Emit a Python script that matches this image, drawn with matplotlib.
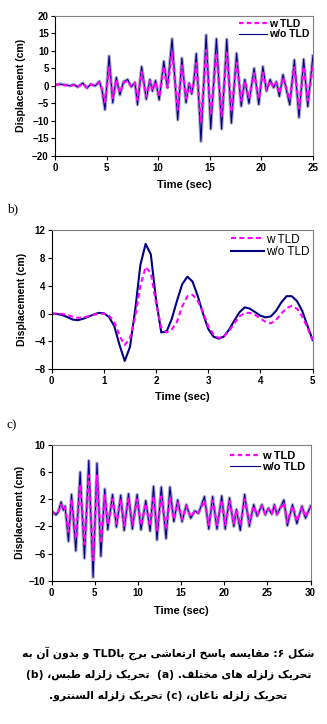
import re
import matplotlib
matplotlib.use("Agg")
import matplotlib.pyplot as plt

# ---- data ----
# (a) Tabas, 0-25 s
t1 = [0, 0.5, 1.0, 1.5, 1.8, 2.2, 2.7, 3.1, 3.5, 3.9, 4.3, 4.55, 4.85, 5.25, 5.6, 5.95, 6.3, 6.65,
      7.05, 7.4, 7.75, 8.0, 8.4, 8.85, 9.2, 9.45, 9.75, 10.1, 10.55, 10.9, 11.35, 11.9, 12.3, 12.7,
      13.0, 13.25, 13.45, 13.7, 14.15, 14.65, 15.1, 15.65, 16.15, 16.65, 17.1, 17.6, 18.05, 18.4,
      18.8, 19.3, 19.75, 20.15, 20.5, 20.85, 21.2, 21.45, 21.75, 22.1, 22.75, 23.2, 23.65, 24.1,
      24.5, 25.0]
wo1 = [0.3, 0.5, 0.3, 0.0, 0.4, -0.3, 0.8, -0.6, 0.5, 0.0, 1.3, -1.0, -6.8, 8.5, -4.8, 2.4, -2.6, 1.2,
       1.8, -0.3, 1.0, -5.4, 5.5, -3.8, 1.8, -1.5, 1.5, -4.0, 7.0, -0.5, 13.4, -9.7, 7.9, -4.8,
       0.8, -2.3, 1.0, 9.2, -15.8, 14.5, -12.3, 13.4, -12.3, 13.3, -10.6, 9.3, -5.8, 1.8,
       -5.0, 5.0, -5.3, 5.5, -1.5, 1.8, -0.5, 1.2, -3.0, 3.2, -5.4, 7.4, -9.0, 7.6,
       -5.9, 8.6]
w1 = [0.3, 0.4, 0.2, 0.0, 0.3, -0.3, 0.6, -0.5, 0.4, 0.0, 1.0, -0.8, -4.6, 5.2, -3.5, 1.8, -2.0, 1.0,
      1.4, -0.3, 0.8, -4.0, 4.0, -3.0, 1.4, -1.2, 1.2, -3.2, 5.5, -0.5, 9.5, -6.8, 5.8, -3.6,
      0.6, -1.8, 0.8, 6.5, -10.5, 10.2, -8.5, 9.4, -8.6, 9.4, -7.5, 6.6, -4.2, 1.4,
      -3.6, 3.6, -3.8, 3.8, -1.2, 1.4, -0.4, 0.9, -2.2, 2.4, -3.9, 5.3, -6.4, 5.5,
      -4.2, 5.6]

# (b) Naghan, 0-5 s
t2 = [0, 0.1, 0.2, 0.3, 0.4, 0.5, 0.6, 0.7, 0.8, 0.9, 1.0, 1.1, 1.2, 1.3, 1.4, 1.5, 1.6, 1.7, 1.8,
      1.9, 2.0, 2.1, 2.2, 2.3, 2.4, 2.5, 2.6, 2.7, 2.8, 2.9, 3.0, 3.1, 3.2, 3.3, 3.4, 3.5, 3.6,
      3.7, 3.8, 3.9, 4.0, 4.1, 4.2, 4.3, 4.4, 4.5, 4.6, 4.7, 4.8, 4.9, 5.0]
wo2 = [0, -0.05, -0.2, -0.5, -0.85, -0.95, -0.75, -0.45, -0.15, 0.1, 0.05, -0.5, -1.8, -4.5, -6.8,
       -4.8, 0.5, 7.0, 10.0, 8.5, 2.0, -2.7, -2.6, -0.8, 1.8, 4.2, 5.3, 4.6, 2.5, 0.0, -2.2, -3.3,
       -3.6, -3.3, -2.3, -1.0, 0.2, 0.9, 0.7, 0.2, -0.3, -0.55, -0.4, 0.4, 1.6, 2.5, 2.5, 1.8,
       0.4, -1.7, -3.8]
w2 = [0, 0, -0.05, -0.2, -0.45, -0.6, -0.55, -0.4, -0.2, -0.05, 0.0, -0.3, -1.2, -3.2, -4.5,
      -3.5, -0.5, 4.0, 6.7, 5.8, 1.5, -2.0, -2.7, -2.3, -1.2, 1.0, 2.5, 2.7, 1.8, 0.2, -1.8, -3.0,
      -3.5, -3.3, -2.5, -1.4, -0.4, 0.1, 0.1, -0.2, -0.7, -1.2, -1.4, -0.9, 0.0, 0.8, 1.1, 0.7,
      -0.4, -2.0, -3.8]

# (c) El Centro, 0-30 s
t3 = [0, 0.5, 0.75, 1.1, 1.35, 1.55, 1.95, 2.3, 2.8, 3.3, 3.8, 4.3, 4.8, 5.25, 5.7, 6.15, 6.5,
      7.05, 7.5, 8.0, 8.4, 8.9, 9.35, 9.9, 10.35, 10.9, 11.4, 11.8, 12.2, 12.7, 13.25, 13.7,
      14.15, 14.6, 15.1, 15.6, 16.1, 16.6, 17.0, 17.7, 18.2, 18.65, 19.15, 19.7, 20.1, 20.6,
      21.1, 21.4, 21.85, 22.35, 22.9, 23.4, 23.8, 24.35, 24.75, 25.1, 25.5, 25.8, 26.1, 26.9,
      27.3, 27.9, 28.4, 29.0, 29.4, 30.0]
wo3 = [0.2, -0.3, 0.1, 1.6, 0.4, 1.0, -4.2, 2.7, -5.6, 6.0, -6.7, 7.7, -9.5, 7.3, -6.4, 3.5, -2.5,
       2.7, -2.1, 2.6, -2.6, 2.8, -2.4, 2.7, -2.5, 1.8, -2.7, 3.9, -4.0, 3.8, -3.8, 3.8,
       -1.3, 1.9, -1.3, 1.2, -0.8, 0.3, -0.1, 2.4, -2.4, 2.4, -2.4, 2.5, -2.4, 2.2,
       -2.0, 0.5, -2.6, 2.7, -2.0, 1.2, -0.5, 1.2, -0.3, 0.7, -0.2, 1.2, -0.3, 1.9,
       -1.9, 1.2, -1.6, 1.0, -0.8, 1.0]
w3 = [0.2, -0.2, 0.1, 1.2, 0.4, 0.8, -2.8, 2.0, -3.8, 4.2, -4.6, 5.5, -7.0, 5.5, -4.5, 2.6, -1.8,
      2.0, -1.6, 2.0, -1.9, 2.1, -1.8, 2.0, -1.9, 1.4, -2.0, 2.4, -2.6, 2.4, -2.5, 2.3,
      -1.0, 1.5, -1.0, 1.0, -0.6, 0.3, 0.0, 1.8, -1.8, 1.8, -1.8, 1.9, -1.8, 1.7,
      -1.6, 0.5, -1.8, 2.0, -1.5, 1.0, -0.4, 1.0, -0.2, 0.6, -0.1, 1.0, -0.2, 1.5,
      -1.4, 1.0, -1.2, 0.8, -0.6, 0.9]

caption = ["شکل ۶: مقایسه پاسخ ارتعاشی برج باTLD و بدون آن به",
           "تحریک زلزله های مختلف. (a)  تحریک زلزله طبس، (b)",
           "تحریک زلزله ناغان، (c) تحریک زلزله السنترو."]

# ---- simple arabic shaping (matplotlib has no complex text layout) ----
FORMS = {
    'ا': ('\uFE8D', '\uFE8E', None, None), 'آ': ('\uFE81', '\uFE82', None, None),
    'ب': ('\uFE8F', '\uFE90', '\uFE91', '\uFE92'), 'پ': ('\uFB56', '\uFB57', '\uFB58', '\uFB59'),
    'ت': ('\uFE95', '\uFE96', '\uFE97', '\uFE98'), 'ج': ('\uFE9D', '\uFE9E', '\uFE9F', '\uFEA0'),
    'ح': ('\uFEA1', '\uFEA2', '\uFEA3', '\uFEA4'), 'خ': ('\uFEA5', '\uFEA6', '\uFEA7', '\uFEA8'),
    'د': ('\uFEA9', '\uFEAA', None, None), 'ر': ('\uFEAD', '\uFEAE', None, None),
    'ز': ('\uFEAF', '\uFEB0', None, None), 'س': ('\uFEB1', '\uFEB2', '\uFEB3', '\uFEB4'),
    'ش': ('\uFEB5', '\uFEB6', '\uFEB7', '\uFEB8'), 'ط': ('\uFEC1', '\uFEC2', '\uFEC3', '\uFEC4'),
    'ع': ('\uFEC9', '\uFECA', '\uFECB', '\uFECC'), 'غ': ('\uFECD', '\uFECE', '\uFECF', '\uFED0'),
    'ف': ('\uFED1', '\uFED2', '\uFED3', '\uFED4'), 'ق': ('\uFED5', '\uFED6', '\uFED7', '\uFED8'),
    'ک': ('\uFB8E', '\uFB8F', '\uFB90', '\uFB91'), 'ل': ('\uFEDD', '\uFEDE', '\uFEDF', '\uFEE0'),
    'م': ('\uFEE1', '\uFEE2', '\uFEE3', '\uFEE4'), 'ن': ('\uFEE5', '\uFEE6', '\uFEE7', '\uFEE8'),
    'ه': ('\uFEE9', '\uFEEA', '\uFEEB', '\uFEEC'), 'و': ('\uFEED', '\uFEEE', None, None),
    'ی': ('\uFBFC', '\uFBFD', '\uFBFE', '\uFBFF'),
}


def shape(s):
    out = []
    for i, c in enumerate(s):
        if c not in FORMS:
            out.append(c)
            continue
        f = FORMS[c]
        prev = s[i - 1] if i > 0 else ''
        nxt = s[i + 1] if i + 1 < len(s) else ''
        jp = prev in FORMS and FORMS[prev][2] is not None
        jn = f[2] is not None and nxt in FORMS
        out.append(f[3] if jp and jn else f[1] if jp else f[2] if jn else f[0])
    return ''.join(out)


def visual(s):
    r = shape(s)[::-1].translate(str.maketrans('()', ')('))
    return re.sub(r'[A-Za-z]+', lambda m: m.group(0)[::-1], r)


plt.rcParams['font.family'] = ['Liberation Sans', 'DejaVu Sans']
NAVY = '#000080'
MAG = '#ff00ff'
HALO = '#a9abc8'

fig = plt.figure(figsize=(3.27, 7.24), dpi=100)


def style(ax, xlim, ylim, yt, xt, xlab_y, ylab_x):
    ax.set_xlim(xlim)
    ax.set_ylim(ylim)
    ax.set_xticks(xt)
    ax.set_yticks(yt)
    ax.tick_params(direction='out', length=3, width=0.8, labelsize=7, pad=2)
    ax.tick_params(axis='y', pad=1.5)
    for lab in ax.get_xticklabels() + ax.get_yticklabels():
        lab.set_fontweight('bold')
    for s in ['top', 'right']:
        ax.spines[s].set_color('#808080')
    for s in ax.spines.values():
        s.set_linewidth(0.8)
    ax.set_xlabel('Time (sec)', fontsize=8, fontweight='bold')
    ax.set_ylabel('Displacement (cm)', fontsize=7.6, fontweight='bold')
    ax.xaxis.set_label_coords(0.5, xlab_y)
    ax.yaxis.set_label_coords(ylab_x, 0.5)


# (a)
ax1 = fig.add_axes([0.168, 0.7845, 0.789, 0.1938])
ax1.plot(t1, wo1, color=HALO, lw=2.4, solid_joinstyle='round')
ax1.plot(t1, wo1, color=NAVY, lw=0.8, label='w/o TLD')
ax1.plot(t1, w1, color=MAG, lw=1.6, ls=(0, (2, 1.5)), label='w TLD')
style(ax1, (0, 25), (-20, 20), range(-20, 21, 5), range(0, 26, 5), -0.17, -0.112)
h, l = ax1.get_legend_handles_labels()
ax1.legend(h[::-1], l[::-1], loc='upper right', frameon=False,
           prop={'weight': 'bold', 'size': 7.5}, handlelength=2.7, handletextpad=0.2,
           labelspacing=0.05, borderpad=0.2, borderaxespad=0.1)

fig.text(0.02, 1 - 209 / 724, 'b)', fontsize=9.5, family='Liberation Serif', va='center')

# (b)
ax2 = fig.add_axes([0.158, 0.4899, 0.798, 0.1924])
ax2.plot(t2, wo2, color=NAVY, lw=1.5, label='w/o TLD')
ax2.plot(t2, w2, color=MAG, lw=1.5, ls=(0, (2.4, 1.6)), label='w TLD')
style(ax2, (0, 5), (-8, 12), range(-8, 13, 4), range(0, 6), -0.16, -0.096)
h, l = ax2.get_legend_handles_labels()
ax2.legend(h[::-1], l[::-1], loc='upper right', frameon=False,
           prop={'size': 8.5}, handlelength=2.8, handletextpad=0.15,
           labelspacing=0.05, borderpad=0.2, borderaxespad=0.1)

fig.text(0.02, 1 - 425 / 724, 'c)', fontsize=9.5, family='Liberation Serif', va='center')

# (c)
ax3 = fig.add_axes([0.158, 0.198, 0.792, 0.1874])
ax3.plot(t3, wo3, color=HALO, lw=2.4, solid_joinstyle='round')
ax3.plot(t3, wo3, color=NAVY, lw=0.8, label='w/o TLD')
ax3.plot(t3, w3, color=MAG, lw=1.6, ls=(0, (2, 1.5)), label='w TLD')
style(ax3, (0, 30), (-10, 10), range(-10, 11, 4), range(0, 31, 5), -0.19, -0.103)
h, l = ax3.get_legend_handles_labels()
ax3.legend(h[::-1], l[::-1], loc='upper right', frameon=False,
           prop={'weight': 'bold', 'size': 8}, handlelength=2.7, handletextpad=0.2,
           labelspacing=0.15, borderpad=0.3, borderaxespad=0.2)

# caption, sized so the first line spans about 293 px like the reference
caps = []
for i, line in enumerate(caption):
    caps.append(fig.text(0.515, 1 - (653 + 21.5 * i) / 724, visual(line), ha='center',
                         va='center', fontsize=9, fontweight='bold', family='DejaVu Sans'))
r = fig.canvas.get_renderer()
w0 = caps[0].get_window_extent(r).width
for c in caps:
    c.set_fontsize(9 * 293 / w0)

fig.savefig('out.png', dpi=100)
